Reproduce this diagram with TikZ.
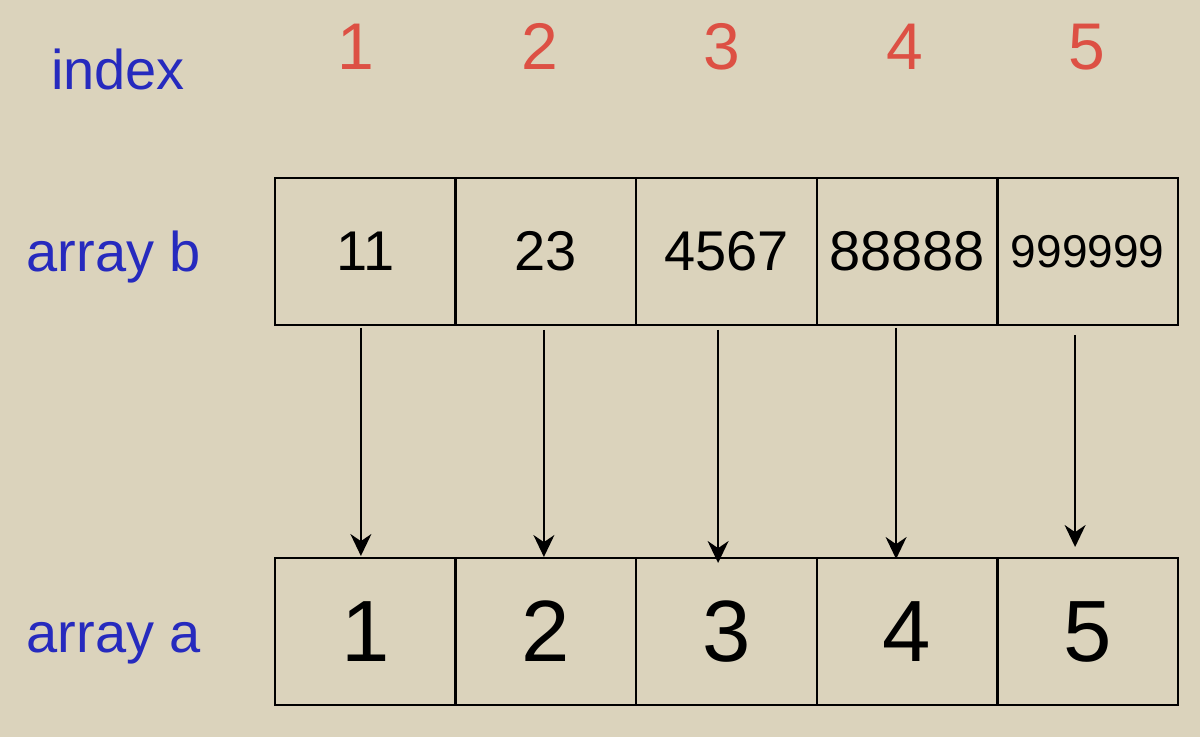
\documentclass[tikz,border=0pt]{standalone}
\usepackage{fontspec}
\setmainfont{Liberation Sans}
\usepackage{xcolor}
\usepackage{tikz}
\usetikzlibrary{arrows.meta,positioning}
\definecolor{paperbeige}{RGB}{219,211,188}
\definecolor{labelblue}{RGB}{38,42,190}
\definecolor{indexred}{RGB}{221,80,68}

\begin{document}
\begin{tikzpicture}[
    x=0.5pt, y=-0.5pt,
    cell/.style={draw, line width=1.2pt, minimum width=90.3pt, minimum height=73.5pt, inner sep=0pt, outer sep=0pt},
    bigdigit/.style={font=\fontsize{43.5}{46}\selectfont},
    value/.style={font=\fontsize{28}{30}\selectfont},
    rowlabel/.style={text=labelblue, anchor=base, font=\fontsize{28}{30}\selectfont},
    idx/.style={text=indexred, anchor=base, font=\fontsize{33}{36}\selectfont},
    link/.style={draw, line width=0.9pt, -{Stealth[length=11pt,width=10.5pt]}}
]

\fill[paperbeige] (0,0) rectangle (1200,737);

% labels on the left
\node[rowlabel] (lblindex) at (118,90) {index};
\node[rowlabel] (lblb) at (114,272) {array b};
\node[rowlabel] (lbla) at (114,652) {array a};

% index numbers
\node[idx] (i1) at (356,70) {1};
\node[idx] (i2) at (540,70) {2};
\node[idx] (i3) at (722,70) {3};
\node[idx] (i4) at (905,70) {4};
\node[idx] (i5) at (1087,70) {5};

% array b
\node[cell, value] (b1) at (365.3,251.5) {11};
\node[cell, value, right=0pt of b1] (b2) {23};
\node[cell, value, right=0pt of b2] (b3) {4567};
\node[cell, value, right=0pt of b3] (b4) {88888};
\node[cell, right=0pt of b4, font=\fontsize{23}{25}\selectfont] (b5) {999999};

% array a
\node[cell, bigdigit] (a1) at (365.3,631.5) {1};
\node[cell, bigdigit, right=0pt of a1] (a2) {2};
\node[cell, bigdigit, right=0pt of a2] (a3) {3};
\node[cell, bigdigit, right=0pt of a3] (a4) {4};
\node[cell, bigdigit, right=0pt of a4] (a5) {5};

% copies from b into a
\draw[link] ([xshift=-2.2pt,yshift=-1.5pt]b1.south) -- ([xshift=-2.2pt,yshift=1pt]a1.north);
\draw[link] ([xshift=-1pt,yshift=-2.5pt]b2.south) -- ([xshift=-1pt,yshift=0.5pt]a2.north);
\draw[link] ([xshift=-4.2pt,yshift=-2.5pt]b3.south) -- ([xshift=-4.2pt,yshift=-2.5pt]a3.north);
\draw[link] ([xshift=-5.5pt,yshift=-1.5pt]b4.south) -- ([xshift=-5.5pt,yshift=-0.5pt]a4.north);
\draw[link] ([xshift=-6.3pt,yshift=-5pt]b5.south) -- ([xshift=-6.3pt,yshift=5.5pt]a5.north);

\end{tikzpicture}
\end{document}
